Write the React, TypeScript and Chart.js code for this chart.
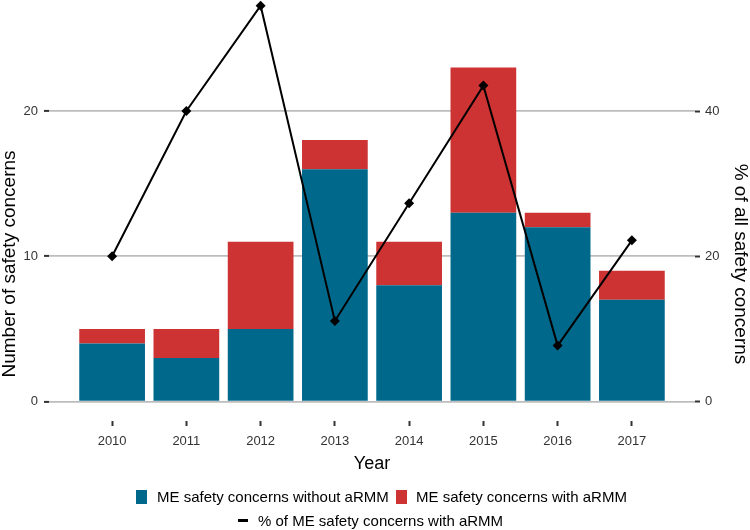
import { useEffect, useRef } from "react";
import { Chart, registerables } from "chart.js";

Chart.register(...registerables);

const years = [2010, 2011, 2012, 2013, 2014, 2015, 2016, 2017];
const withoutArmm = [4, 3, 5, 16, 8, 13, 12, 7];
const withArmm = [1, 2, 6, 2, 3, 10, 1, 2];
const pctWithArmm = [20, 40, 54.5, 11.1, 27.3, 43.5, 7.7, 22.2];
const countTicks = [0, 10, 20];
const pctTicks = [0, 20, 40];

const BLUE = "#00688b";
const RED = "#cd3333";
const FONT = "'Liberation Sans', Arial, sans-serif";

// y-axis titles sit lower than the panel centre in the original, so draw them by hand
const sideTitles = {
  id: "sideTitles",
  afterDraw(chart: Chart) {
    const { ctx } = chart;
    ctx.save();
    ctx.font = `19px ${FONT}`;
    ctx.fillStyle = "#000";
    ctx.textAlign = "center";
    ctx.textBaseline = "alphabetic";
    ctx.translate(15, 264);
    ctx.rotate(-Math.PI / 2);
    ctx.fillText("Number of safety concerns", 0, 0);
    ctx.restore();
    ctx.save();
    ctx.font = `19px ${FONT}`;
    ctx.fillStyle = "#000";
    ctx.textAlign = "center";
    ctx.textBaseline = "alphabetic";
    ctx.translate(735, 264);
    ctx.rotate(Math.PI / 2);
    ctx.fillText("% of all safety concerns", 0, 0);
    ctx.restore();
  },
};

export default function App() {
  const ref = useRef<HTMLCanvasElement | null>(null);

  useEffect(() => {
    document.body.style.margin = "0";
    if (!ref.current) return;
    const chart = new Chart(ref.current, {
      type: "bar",
      data: {
        datasets: [
          {
            type: "line",
            label: "% of ME safety concerns with aRMM",
            data: years.map((y, i) => ({ x: y, y: pctWithArmm[i] })),
            yAxisID: "y1",
            borderColor: "#000",
            backgroundColor: "#000",
            borderWidth: 2,
            pointStyle: "rectRot",
            pointRadius: 5,
            pointBackgroundColor: "#000",
            pointBorderWidth: 0,
            tension: 0,
            clip: false,
            order: 0,
          },
          {
            label: "ME safety concerns without aRMM",
            data: years.map((y, i) => ({ x: y, y: withoutArmm[i] })),
            backgroundColor: BLUE,
            yAxisID: "y",
            barPercentage: 0.885,
            categoryPercentage: 1,
            order: 1,
          },
          {
            label: "ME safety concerns with aRMM",
            data: years.map((y, i) => ({ x: y, y: withArmm[i] })),
            backgroundColor: RED,
            yAxisID: "y",
            barPercentage: 0.885,
            categoryPercentage: 1,
            order: 2,
          },
        ] as any,
      },
      options: {
        animation: false,
        responsive: false,
        layout: { padding: { top: 0, left: 0, right: 0, bottom: 55 } },
        plugins: {
          legend: { display: false },
          tooltip: { enabled: false },
        },
        scales: {
          x: {
            type: "linear",
            min: 2009.15,
            max: 2017.85,
            offset: false,
            stacked: true,
            afterBuildTicks: (axis: any) => {
              axis.ticks = years.map((v) => ({ value: v }));
            },
            afterFit: (s: any) => {
              s.height = 54;
            },
            ticks: {
              callback: (v: any) => String(v),
              font: { family: FONT, size: 13 },
              color: "#333",
              padding: 8,
              maxRotation: 0,
            },
            grid: {
              offset: false,
              drawOnChartArea: false,
              drawTicks: true,
              tickLength: 5,
              tickWidth: 2,
              tickColor: "#333",
            },
            border: { display: false },
            title: {
              display: true,
              text: "Year",
              font: { family: FONT, size: 18 },
              color: "#000",
              padding: { top: 4, bottom: 0 },
            },
          },
          y: {
            type: "linear",
            position: "left",
            min: -1.34,
            max: 27.3,
            stacked: true,
            afterBuildTicks: (axis: any) => {
              axis.ticks = countTicks.map((v) => ({ value: v }));
            },
            afterFit: (s: any) => {
              s.width = 49;
              s.paddingTop = 0;
              s.paddingBottom = 0;
            },
            ticks: {
              font: { family: FONT, size: 13 },
              color: "#333",
              padding: 6,
            },
            grid: {
              color: "#bdbdbd",
              lineWidth: 1.8,
              tickLength: 5,
              tickWidth: 2,
              tickColor: "#333",
            },
            border: { display: false },
          },
          y1: {
            type: "linear",
            position: "right",
            min: -2.68,
            max: 54.6,
            afterBuildTicks: (axis: any) => {
              axis.ticks = pctTicks.map((v) => ({ value: v }));
            },
            afterFit: (s: any) => {
              s.width = 55;
              s.paddingTop = 0;
              s.paddingBottom = 0;
            },
            ticks: {
              font: { family: FONT, size: 13 },
              color: "#333",
              padding: 5,
            },
            grid: {
              drawOnChartArea: false,
              tickLength: 5,
              tickWidth: 2,
              tickColor: "#333",
            },
            border: { display: false },
          },
        },
      },
      plugins: [sideTitles],
    });
    return () => chart.destroy();
  }, []);

  const text = {
    position: "absolute" as const,
    font: `15px ${FONT}`,
    lineHeight: "18px",
    color: "#000",
    whiteSpace: "nowrap" as const,
  };

  return (
    <div style={{ position: "relative", width: 750, height: 530, background: "#fff" }}>
      <canvas ref={ref} width={750} height={530} style={{ display: "block" }} />
      <div style={{ position: "absolute", left: 136, top: 490, width: 11, height: 14, background: BLUE }} />
      <div style={{ ...text, left: 157, top: 488 }}>ME safety concerns without aRMM</div>
      <div style={{ position: "absolute", left: 396, top: 490, width: 11, height: 14, background: RED }} />
      <div style={{ ...text, left: 416, top: 488 }}>ME safety concerns with aRMM</div>
      <div style={{ position: "absolute", left: 238, top: 519, width: 10, height: 3, background: "#000" }} />
      <div style={{ ...text, left: 258, top: 512 }}>% of ME safety concerns with aRMM</div>
    </div>
  );
}
